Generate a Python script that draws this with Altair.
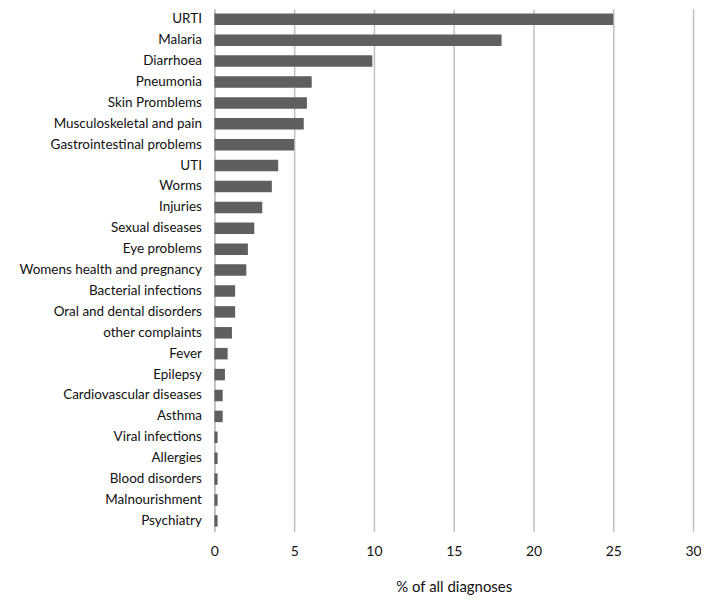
import altair as alt
import pandas as pd

categories = ["URTI", "Malaria", "Diarrhoea", "Pneumonia", "Skin Promblems",
              "Musculoskeletal and pain", "Gastrointestinal problems", "UTI", "Worms",
              "Injuries", "Sexual diseases", "Eye problems", "Womens health and pregnancy",
              "Bacterial infections", "Oral and dental disorders", "other complaints",
              "Fever", "Epilepsy", "Cardiovascular diseases", "Asthma", "Viral infections",
              "Allergies", "Blood disorders", "Malnourishment", "Psychiatry"]
values = [25.0, 18.0, 9.9, 6.1, 5.8, 5.6, 5.0, 4.0, 3.6, 3.0, 2.5, 2.1, 2.0,
          1.3, 1.3, 1.1, 0.83, 0.66, 0.52, 0.52, 0.2, 0.2, 0.2, 0.2, 0.2]
x_ticks = [0, 5, 10, 15, 20, 25, 30]

df = pd.DataFrame({"category": categories, "value": values})

chart = alt.Chart(df).mark_bar(color="#5f5f5f").encode(
    x=alt.X("value:Q",
            scale=alt.Scale(domain=[0, 30], nice=False),
            axis=alt.Axis(values=x_ticks, title="% of all diagnoses", grid=True,
                          gridColor="#c0c0c0", gridWidth=1.5, domain=False, ticks=False,
                          labelFlush=False, labelBound=False,
                          labelPadding=13, labelFontSize=14, labelColor="#111111",
                          labelFont="Lato", titleFont="Lato", titleFontSize=15,
                          titleFontWeight="normal", titleColor="#111111", titlePadding=21)),
    y=alt.Y("category:N", sort=categories,
            scale=alt.Scale(paddingInner=0.45, paddingOuter=0.225),
            axis=alt.Axis(title=None, domain=True, domainColor="#c0c0c0", domainWidth=1.5,
                          ticks=False, labelPadding=13, labelFontSize=13.5,
                          labelColor="#111111", labelFont="Lato", labelLimit=300)),
).properties(
    width=480,
    height=524,
    autosize=alt.AutoSizeParams(type="none"),
    padding={"left": 207, "top": 0, "right": 8, "bottom": 68},
).configure_view(stroke=None)

chart.save("out.html", embed_options={"renderer": "svg", "actions": False})
